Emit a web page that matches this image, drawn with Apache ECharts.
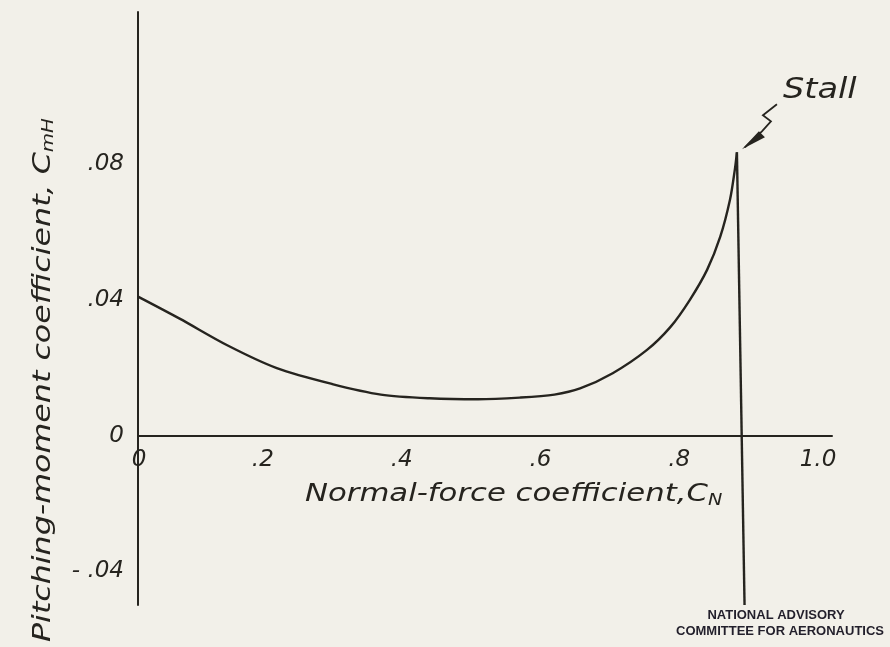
<!DOCTYPE html>
<html>
<head>
	<meta charset="utf-8">
	<script src="https://cdn.jsdelivr.net/npm/echarts@6/dist/echarts.min.js"></script>
	<style>
		html, body { margin: 0; padding: 0; background: #f2f0e9; }
		#chart { width: 890px; height: 647px; }
	</style>
</head>
<body>
	<div id="chart"></div>
	<script>
		// normal-force coefficient C_N vs pitching-moment coefficient C_mH
		var cnValues = [0, 0.06, 0.13, 0.2, 0.28, 0.35, 0.42, 0.49, 0.55, 0.6, 0.637, 0.684, 0.733, 0.767, 0.795, 0.82, 0.839, 0.853, 0.86, 0.863];
		var cmValues = [0.041, 0.0345, 0.0265, 0.0199, 0.0152, 0.0121, 0.011, 0.0107, 0.0112, 0.0121, 0.0139, 0.0184, 0.0252, 0.032, 0.04, 0.0489, 0.0587, 0.0696, 0.0785, 0.0836];
		// vertical drop after stall
		var stallCn = [0.863, 0.874];
		var stallCm = [0.0836, -0.05];

		var xTicks = [0, 0.2, 0.4, 0.6, 0.8, 1.0];
		var xTickText = ['0', '.2', '.4', '.6', '.8', '1.0'];
		var yTicks = [-0.04, 0, 0.04, 0.08];
		var yTickText = ['- .04', '0', '.04', '.08'];

		var yMin = -0.05, yMax = 0.125;
		var gridTop = 12, gridBottom = 42, H = 647;
		var ink = '#26241f';

		function pairs(xs, ys) {
			var out = [];
			for (var i = 0; i < xs.length; i++) out.push([xs[i], ys[i]]);
			return out;
		}

		// pull the x axis (and its labels) up to y = 0
		var gridH = H - gridTop - gridBottom;
		var zeroLift = gridH * (0 - yMin) / (yMax - yMin);

		var chart = echarts.init(document.getElementById('chart'));
		var option = {
			animation: false,
			backgroundColor: '#f2f0e9',
			grid: { left: 138, right: 58, top: gridTop, bottom: gridBottom },
			xAxis: {
				type: 'value', min: 0, max: 1, interval: 0.2,
				offset: -zeroLift,
				axisLine: { onZero: false, lineStyle: { color: ink, width: 2 } },
				axisTick: { show: false },
				splitLine: { show: false },
				axisLabel: {
					margin: 13,
					formatter: function (v) {
						var i = xTicks.indexOf(Math.round(v * 10) / 10);
						if (i < 0) return '';
						return i === 0 ? '{z|' + xTickText[i] + '}' : '{a|' + xTickText[i] + '}';
					},
					rich: {
						a: { color: ink, fontFamily: 'DejaVu Sans', fontStyle: 'italic', fontSize: 23, padding: [0, 28, 0, 0] },
						z: { color: ink, fontFamily: 'DejaVu Sans', fontStyle: 'italic', fontSize: 23, padding: [0, 0, 0, 2] }
					}
				}
			},
			yAxis: {
				type: 'value', min: yMin, max: yMax,
				axisLine: { lineStyle: { color: ink, width: 2 } },
				axisTick: { show: false },
				splitLine: { show: false },
				axisLabel: {
					customValues: yTicks,
					margin: 14,
					color: ink, fontFamily: 'DejaVu Sans', fontStyle: 'italic', fontSize: 23,
					formatter: function (v) {
						var i = yTicks.indexOf(Math.round(v * 100) / 100);
						return i < 0 ? '' : yTickText[i];
					}
				}
			},
			series: [
				{
					type: 'line', smooth: 0.3, showSymbol: false,
					lineStyle: { color: ink, width: 2.4 },
					data: pairs(cnValues, cmValues)
				},
				{
					type: 'line', showSymbol: false,
					lineStyle: { color: ink, width: 2.4 },
					data: pairs(stallCn, stallCm)
				}
			]
		};
		chart.setOption(option);

		// annotation pinned to the stall peak
		var pk = chart.convertToPixel({ gridIndex: 0 }, [stallCn[0], stallCm[0]]);
		var px = pk[0], py = pk[1];

		chart.setOption({
			graphic: [
				{
					type: 'text', x: 305, y: 480, scaleX: 1.28,
					style: { rich: {
						t: { font: 'italic 24px "DejaVu Sans"', fill: ink },
						s: { font: 'italic 15px "DejaVu Sans"', fill: ink, padding: [14, 0, 0, 0] }
					}, text: '{t|Normal-force coefficient,C}{s|N}' }
				},
				{
					type: 'text', x: 30, y: 642, rotation: Math.PI / 2, scaleX: 1.32,
					style: { rich: {
						t: { font: 'italic 24px "DejaVu Sans"', fill: ink },
						s: { font: 'italic 15px "DejaVu Sans"', fill: ink, padding: [12, 0, 0, 0] }
					}, text: '{t|Pitching-moment coefficient, C}{s|mH}' }
				},
				{
					type: 'text', x: px + 46, y: py - 62, scaleX: 1.2,
					style: { text: 'Stall', font: 'italic 28px "DejaVu Sans"', fill: ink, verticalAlign: 'middle' }
				},
				{
					type: 'polyline',
					shape: { points: [[px + 40, py - 48], [px + 26, py - 37], [px + 34, py - 31], [px + 25, py - 21], [px + 8, py - 5]] },
					style: { stroke: ink, lineWidth: 1.8, fill: null }
				},
				{
					type: 'polygon',
					shape: { points: [[px + 5, py - 3], [px + 22, py - 21], [px + 28, py - 15]] },
					style: { fill: ink }
				},
				{
					type: 'text', x: 776, y: 609,
					style: { text: 'NATIONAL ADVISORY', font: 'bold 13px "Liberation Sans"', fill: '#221f2b', align: 'center' }
				},
				{
					type: 'text', x: 780, y: 625,
					style: { text: 'COMMITTEE FOR AERONAUTICS', font: 'bold 13px "Liberation Sans"', fill: '#221f2b', align: 'center' }
				}
			]
		});
	</script>
</body>
</html>
